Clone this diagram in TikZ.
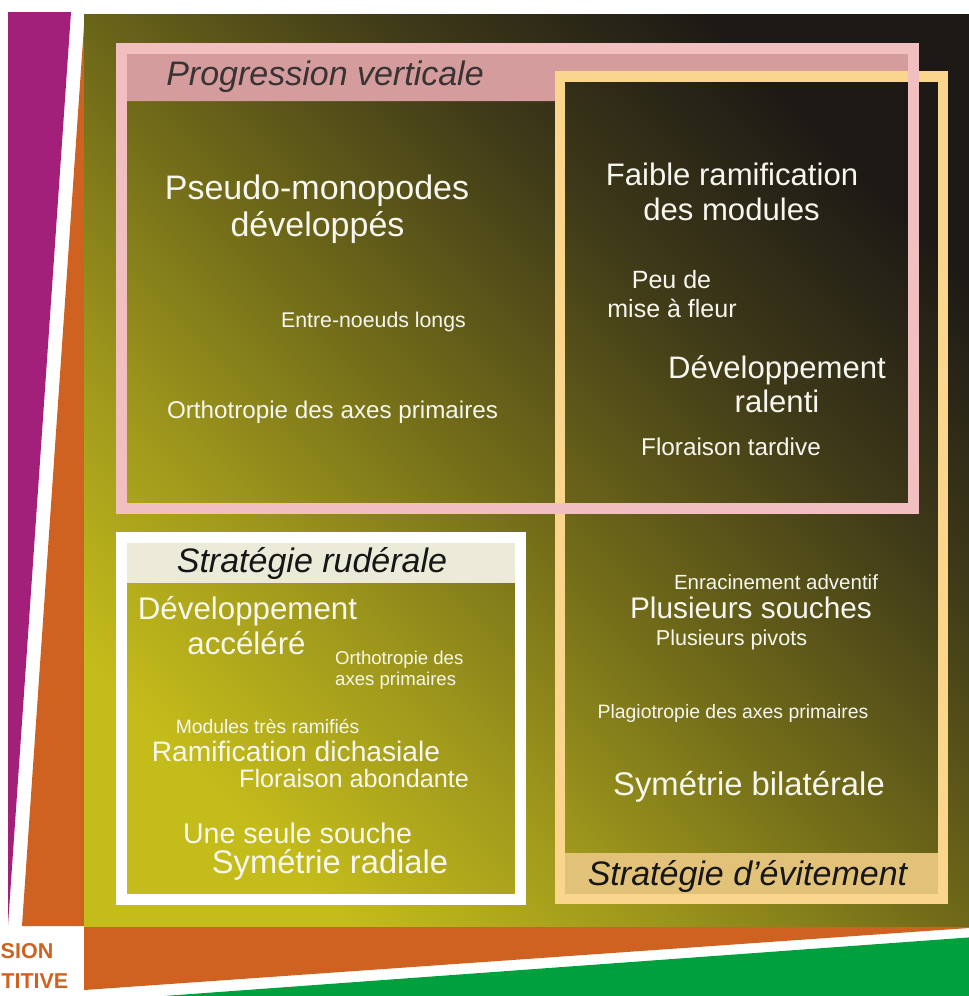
\documentclass[tikz,border=0pt]{standalone}
\usepackage{fontspec}
\setmainfont{Liberation Sans}
\definecolor{magentaband}{HTML}{A21F7A}
\definecolor{orangeband}{HTML}{CF6221}
\definecolor{greenband}{HTML}{00A03E}
\definecolor{olA}{HTML}{C4BC1B}
\definecolor{olB}{HTML}{9C951C}
\definecolor{olC}{HTML}{6C6619}
\definecolor{olD}{HTML}{3F3A18}
\definecolor{olE}{HTML}{1D1A16}
\definecolor{pinkframe}{HTML}{F2BFC0}
\definecolor{pinkbar}{HTML}{D49C9C}
\definecolor{yelframe}{HTML}{F9D68B}
\definecolor{yelbar}{HTML}{E2C179}
\definecolor{creambar}{HTML}{ECEBD9}
\definecolor{txtw}{HTML}{F7F7EF}
\definecolor{txtgrey}{HTML}{3A3334}
\definecolor{txtdark}{HTML}{161616}
\pgfdeclarehorizontalshading{olivegrad}{100bp}{color(0bp)=(olA); color(25bp)=(olA); color(37.5bp)=(olB); color(50bp)=(olC); color(62.5bp)=(olD); color(75bp)=(olE); color(100bp)=(olE)}
\begin{document}
\begin{tikzpicture}[x=1pt,y=-1pt,
  wt/.style={text=txtw, inner sep=0pt, anchor=base},
  ttl/.style={inner sep=0pt, anchor=base, font=\itshape\fontsize{34}{40}\selectfont},
  side/.style={text=orangeband, inner sep=0pt, anchor=base east, font=\bfseries\fontsize{21.5}{24}\selectfont},
  frameline/.style={line width=11pt}]
\useasboundingbox (0,0) rectangle (969,996);
\clip (0,0) rectangle (969,996);
\fill[white] (0,0) rectangle (969,996);
% side bands
\fill[magentaband] (8,12) -- (71,12) -- (8,925) -- cycle;
\fill[orangeband] (84,26) -- (22,926) -- (84,926) -- (84,990) -- (969,928) -- (969,900) -- (84,900) -- cycle;
\fill[greenband] (150,997) -- (975,937) -- (975,1000) -- (150,1000) -- cycle;
% main square
\shade[shading=olivegrad, shading angle=45] (84,14) rectangle (969,926);
% pink title bar
\fill[pinkbar] (127,54) -- (908,54) -- (908,76) -- (560,76) -- (560,101) -- (127,101) -- cycle;
% yellow frame
\fill[yelbar] (563,853) rectangle (940,896);
\draw[yelframe, line width=10.5pt] (560,76.5) rectangle (943,899);
% pink frame
\draw[pinkframe, frameline] (121.5,48.5) rectangle (913.5,508.75);
% white frame
\fill[creambar] (125,541) rectangle (517,583);
\draw[white, frameline] (121.5,537.5) rectangle (520.5,899);
% titles
\node[ttl, text=txtgrey] (tpv) at (325,85) {Progression verticale};
\node[ttl, text=txtdark] (tsr) at (312,572) {Stratégie rudérale};
\node[ttl, text=txtdark] (tse) at (747.5,885) {Stratégie d’évitement};
% top-left texts
\node[wt, font=\fontsize{34}{37}\selectfont] (pm1) at (317,199) {Pseudo-monopodes};
\node[wt, font=\fontsize{34}{37}\selectfont] (pm2) at (317.5,236) {développés};
\node[wt, font=\fontsize{21.3}{24}\selectfont] (enl) at (373.5,327) {Entre-noeuds longs};
\node[wt, font=\fontsize{24.2}{27}\selectfont] (oap) at (332.5,418) {Orthotropie des axes primaires};
% top-right texts
\node[wt, font=\fontsize{31.1}{35}\selectfont] (frm1) at (732,185) {Faible ramification};
\node[wt, font=\fontsize{31.1}{35}\selectfont] (frm2) at (731.5,220) {des modules};
\node[wt, font=\fontsize{25}{29}\selectfont] (pmf1) at (671.5,288) {Peu de};
\node[wt, font=\fontsize{25}{29}\selectfont] (pmf2) at (672,317) {mise à fleur};
\node[wt, font=\fontsize{31.1}{35}\selectfont] (dr1) at (777,378) {Développement};
\node[wt, font=\fontsize{31.1}{35}\selectfont] (dr2) at (777,412) {ralenti};
\node[wt, font=\fontsize{24.3}{28}\selectfont] (ft) at (731,455) {Floraison tardive};
% bottom-left texts
\node[wt, font=\fontsize{31.3}{35}\selectfont] (da1) at (247.5,619) {Développement};
\node[wt, font=\fontsize{31.3}{35}\selectfont] (da2) at (246.5,654) {accéléré};
\node[wt, anchor=base west, font=\fontsize{18.6}{21}\selectfont] (oap1) at (335,664) {Orthotropie des};
\node[wt, anchor=base west, font=\fontsize{18.6}{21}\selectfont] (oap2) at (335,685) {axes primaires};
\node[wt, font=\fontsize{19.3}{22}\selectfont] (mtr) at (267.5,733) {Modules très ramifiés};
\node[wt, font=\fontsize{28.2}{32}\selectfont] (rd) at (296,761) {Ramification dichasiale};
\node[wt, font=\fontsize{25.2}{29}\selectfont] (fa) at (354,787) {Floraison abondante};
\node[wt, font=\fontsize{28.6}{32}\selectfont] (uss) at (297.5,843) {Une seule souche};
\node[wt, font=\fontsize{32.7}{36}\selectfont] (sr) at (330,873) {Symétrie radiale};
% bottom-right texts
\node[wt, font=\fontsize{20.5}{24}\selectfont] (ea) at (776,589) {Enracinement adventif};
\node[wt, font=\fontsize{29.8}{33}\selectfont] (ps) at (751,618) {Plusieurs souches};
\node[wt, font=\fontsize{21.6}{25}\selectfont] (pp) at (731.5,645) {Plusieurs pivots};
\node[wt, font=\fontsize{19.4}{23}\selectfont] (pap) at (733,718) {Plagiotropie des axes primaires};
\node[wt, font=\fontsize{32.8}{36}\selectfont] (sb) at (749,795) {Symétrie bilatérale};
% cut side labels
\node[side] (sion) at (53.5,958) {SION};
\node[side] (titive) at (68.5,988) {TITIVE};
\end{tikzpicture}
\end{document}
